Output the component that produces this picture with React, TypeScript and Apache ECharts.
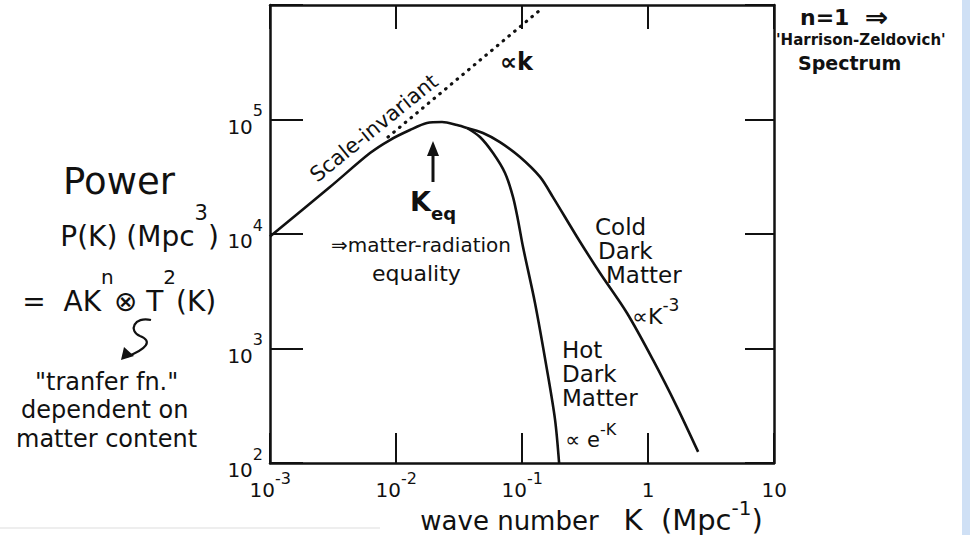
import React, { useEffect, useRef } from 'react';
import * as echarts from 'echarts';

const FONT = 'DejaVu Sans';
const INK = '#111111';

// Tick labels (log10 exponent -> label parts)
const xTickExps = [-3, -2, -1, 0, 1];
const xTickBase = ['10', '10', '10', '1', '10'];
const xTickSup = ['-3', '-2', '-1', '', ''];
const yTickExps = [2, 3, 4, 5, 6];
const yTickBase = ['10', '10', '10', '10', ''];
const yTickSup = ['2', '3', '4', '5', ''];

// Shared (primordial, scale-invariant) part up to the turnover
const sharedK = [0.001, 0.00299, 0.00622, 0.00895, 0.0129, 0.0176, 0.0232, 0.0305, 0.0366];
const sharedP = [9500, 25700, 50900, 66200, 80900, 93100, 95000, 89500, 84300];
// Cold Dark Matter branch
const cdmK = [0.0366, 0.0490, 0.0668, 0.0964, 0.139, 0.176, 0.2735, 0.416, 0.681, 1.096, 1.70, 2.50];
const cdmP = [84300, 76200, 63500, 47000, 31500, 21000, 9420, 4560, 2040, 794, 308, 125];
// Hot Dark Matter branch
const hdmK = [0.0366, 0.0464, 0.0589, 0.0733, 0.0849, 0.0930, 0.1019, 0.1268, 0.158, 0.183, 0.197];
const hdmP = [84300, 70300, 50900, 34100, 21000, 13200, 7690, 2500, 649, 238, 100];
// Dotted extrapolation ∝ k
const dotK = [0.00865, 0.139];
const dotP = [70300, 903000];

const zip = (a: number[], b: number[]) => a.map((v, i) => [v, b[i]]);

// rich styles giving a raised superscript; line height set by an invisible token "z"
// lf: line height factor, sf: superscript size factor
function supRich(fs: number, lf: number, sf: number, weight: string = 'normal') {
  const s = Math.round(fs * sf);
  const L = Math.round(fs * lf);
  const base = { fontFamily: FONT, fontWeight: weight, color: INK, fill: INK };
  return {
    z: { ...base, fontSize: 1, lineHeight: L },
    t: { ...base, fontSize: fs, lineHeight: fs, verticalAlign: 'bottom' },
    n: { ...base, fontSize: fs, lineHeight: fs, verticalAlign: 'bottom' },
    s: { ...base, fontSize: s, lineHeight: s, verticalAlign: 'top' },
  };
}

function txt(text: string, x: number, y: number, fontSize: number, extra: any = {}) {
  const { rotation, ...style } = extra;
  return {
    type: 'text',
    x,
    y,
    rotation: rotation || 0,
    style: {
      text,
      fill: INK,
      fontSize,
      fontFamily: FONT,
      textAlign: 'left',
      align: 'left',
      textVerticalAlign: 'middle',
      verticalAlign: 'middle',
      ...style,
    },
  };
}

// rich text with superscript placed so the base text is centred on yc
function supTxt(text: string, x: number, yc: number, fs: number, lf: number, sf: number, weight = 'normal') {
  return txt(text, x, yc - (lf / 2 - 0.5) * fs, fs, { rich: supRich(fs, lf, sf, weight), fontWeight: weight });
}

function stackRich(fs: number, lh: number, pads: number[]) {
  const r: any = {};
  pads.forEach((p, i) => {
    r['l' + i] = { fontSize: fs, lineHeight: lh, fontFamily: FONT, fill: INK, color: INK, padding: [0, 0, 0, p] };
  });
  return r;
}

let registered = false;
function registerShapes() {
  if (registered) return;
  registered = true;
  echarts.graphic.registerShape(
    'squiggle',
    (echarts.graphic as any).extendPath('M 151 320 C 134 316, 128 331, 140 336 C 153 341, 147 349, 126 357', {})
  );
}

export default function App() {
  const ref = useRef<HTMLDivElement>(null);

  useEffect(() => {
    if (!ref.current) return;
    registerShapes();
    const chart = echarts.init(ref.current, undefined, { renderer: 'svg' });

    const axisLine = { show: true, onZero: false, lineStyle: { color: INK, width: 2.5 } };
    const tickStyle = { color: INK, width: 2 };

    const titleBase = { fontFamily: FONT, fill: INK, color: INK };

    const option: any = {
      animation: false,
      backgroundColor: '#ffffff',
      textStyle: { fontFamily: FONT, color: INK },
      grid: { left: 270, right: 196, top: 5, bottom: 72, containLabel: false },
      xAxis: [
        {
          type: 'log',
          logBase: 10,
          min: 0.001,
          max: 10,
          splitNumber: 4,
          position: 'bottom',
          axisLine,
          axisTick: { show: true, inside: true, length: 30, lineStyle: tickStyle },
          minorTick: { show: false },
          splitLine: { show: false },
          axisLabel: {
            show: true,
            margin: 7,
            color: INK,
            formatter: (v: number) => {
              const e = Math.round(Math.log10(v));
              const i = xTickExps.indexOf(e);
              if (i < 0) return '';
              return xTickSup[i]
                ? `{z| }{t|${xTickBase[i]}}{s|${xTickSup[i]}}`
                : `{z| }{n|${xTickBase[i]}}`;
            },
            rich: supRich(20, 1.5, 0.8),
          },
        },
        {
          type: 'log',
          logBase: 10,
          min: 0.001,
          max: 10,
          splitNumber: 4,
          position: 'top',
          axisLine,
          axisTick: { show: true, inside: true, length: 24, lineStyle: tickStyle },
          minorTick: { show: false },
          splitLine: { show: false },
          axisLabel: { show: false },
        },
      ],
      yAxis: [
        {
          type: 'log',
          logBase: 10,
          min: 100,
          max: 1000000,
          splitNumber: 4,
          position: 'left',
          axisLine,
          axisTick: { show: true, inside: true, length: 33, lineStyle: tickStyle },
          minorTick: { show: false },
          splitLine: { show: false },
          axisLabel: {
            show: true,
            margin: 7,
            color: INK,
            formatter: (v: number) => {
              const e = Math.round(Math.log10(v));
              const i = yTickExps.indexOf(e);
              if (i < 0 || !yTickBase[i]) return '';
              return `{z| }{t|${yTickBase[i]}}{s|${yTickSup[i]}}`;
            },
            rich: supRich(20, 1.7, 0.8),
          },
        },
        {
          type: 'log',
          logBase: 10,
          min: 100,
          max: 1000000,
          splitNumber: 4,
          position: 'right',
          axisLine,
          axisTick: { show: true, inside: true, length: 29, lineStyle: tickStyle },
          minorTick: { show: false },
          splitLine: { show: false },
          axisLabel: { show: false },
        },
      ],
      series: [
        {
          name: 'Scale-invariant',
          type: 'line',
          xAxisIndex: 0,
          yAxisIndex: 0,
          data: zip(sharedK, sharedP),
          symbol: 'none',
          smooth: 0.3,
          lineStyle: { color: INK, width: 2.6 },
        },
        {
          name: 'Cold Dark Matter',
          type: 'line',
          xAxisIndex: 0,
          yAxisIndex: 0,
          data: zip(cdmK, cdmP),
          symbol: 'none',
          smooth: 0.3,
          lineStyle: { color: INK, width: 2.6 },
        },
        {
          name: 'Hot Dark Matter',
          type: 'line',
          xAxisIndex: 0,
          yAxisIndex: 0,
          data: zip(hdmK, hdmP),
          symbol: 'none',
          smooth: 0.3,
          lineStyle: { color: INK, width: 2.6 },
        },
        {
          name: '∝k',
          type: 'line',
          xAxisIndex: 0,
          yAxisIndex: 0,
          data: zip(dotK, dotP),
          symbol: 'none',
          lineStyle: { color: INK, width: 3.2, type: [0.5, 7], cap: 'round' },
        },
      ],
      graphic: [
        // right-edge blue stripe
        { type: 'rect', shape: { x: 962, y: 0, width: 8, height: 535 }, style: { fill: '#cfe0f5' }, silent: true },
        // faint scan line bottom-left
        { type: 'line', shape: { x1: 0, y1: 528, x2: 380, y2: 528 }, style: { stroke: '#dddddd', lineWidth: 1 } },
        // left annotations
        txt('Power', 63, 181, 37),
        supTxt('{z| }{t|P(K) (Mpc}{s|3}{t|)}', 60, 236, 28, 1.7, 0.75),
        supTxt('{z| }{t|=  AK}{s|n}{t|⊗ T}{s|2}{t|(K)}', 22, 301, 28, 1.7, 0.72),
        { type: 'squiggle', x: 0, y: 0, style: { stroke: INK, fill: 'none', lineWidth: 2.2 } },
        { type: 'polygon', shape: { points: [[121, 360], [124, 347], [134, 356]] }, style: { fill: INK } },
        txt('"tranfer fn."\ndependent on\nmatter content', 16, 410, 24, {
          rich: stackRich(24, 28.5, [19, 5, 0]),
          text: '{l0|"tranfer fn."}\n{l1|dependent on}\n{l2|matter content}',
        }),
        // plot annotations
        txt('Scale-invariant', 374, 128, 21, { textAlign: 'center', align: 'center', rotation: 0.68 }),
        txt('∝k', 500, 62, 24, { fontWeight: 'bold' }),
        { type: 'line', shape: { x1: 433, y1: 182, x2: 433, y2: 152 }, style: { stroke: INK, lineWidth: 3 } },
        { type: 'polygon', shape: { points: [[433, 141], [427, 156], [439, 156]] }, style: { fill: INK } },
        txt('{K|K}{e|eq}', 410, 205, 26, {
          rich: {
            K: { fontSize: 27, lineHeight: 27, fontWeight: 'bold', fontFamily: FONT, verticalAlign: 'top', fill: INK },
            e: { fontSize: 18, lineHeight: 34, fontWeight: 'bold', fontFamily: FONT, verticalAlign: 'bottom', fill: INK },
          },
        }),
        txt('{a|⇒matter-radiation}\n{b|equality}', 331, 259, 20, {
          rich: {
            a: { fontSize: 20, lineHeight: 28, fontFamily: FONT, fill: INK },
            b: { fontSize: 22, lineHeight: 28, fontFamily: FONT, fill: INK, padding: [0, 0, 0, 41] },
          },
        }),
        txt('{l0|Cold}\n{l1|Dark}\n{l2|Matter}', 595, 251, 23, { rich: stackRich(23, 24, [0, 3, 11]) }),
        supTxt('{z| }{t|∝K}{s|-3}', 632, 316, 22, 1.4, 0.75),
        txt('{l0|Hot}\n{l1|Dark}\n{l2|Matter}', 562, 374, 23, { rich: stackRich(23, 24, [0, 0, 0]) }),
        supTxt('{z| }{t|∝ e}{s|-K}', 565, 440, 21, 1.4, 0.75),
        // right annotations
        txt('{a|n=1  }{b|⇒}', 800, 17, 22, {
          rich: {
            a: { fontSize: 22, lineHeight: 26, fontWeight: 'bold', fontFamily: FONT, fill: INK },
            b: { fontSize: 28, lineHeight: 26, fontWeight: 'bold', fontFamily: FONT, fill: INK },
          },
        }),
        txt("'Harrison-Zeldovich'", 776, 40, 15, { fontWeight: 'bold', lineHeight: 18 }),
        txt('Spectrum', 798, 63, 19, { fontWeight: 'bold', lineHeight: 20 }),
        // x axis title
        txt('{z| }{t|wave number   }{T|K  (Mpc}{S|-1}{T|)}', 420, 516, 26, {
          rich: {
            z: { ...titleBase, fontSize: 1, lineHeight: 36 },
            t: { ...titleBase, fontSize: 26, lineHeight: 26, verticalAlign: 'bottom' },
            T: { ...titleBase, fontSize: 29, lineHeight: 29, verticalAlign: 'bottom' },
            S: { ...titleBase, fontSize: 20, lineHeight: 20, verticalAlign: 'top' },
          },
        }),
      ],
    };

    chart.setOption(option);
    return () => {
      chart.dispose();
    };
  }, []);

  return (
    <div
      ref={ref}
      style={{ position: 'fixed', left: 0, top: 0, width: 970, height: 535, background: '#fff' }}
    />
  );
}
